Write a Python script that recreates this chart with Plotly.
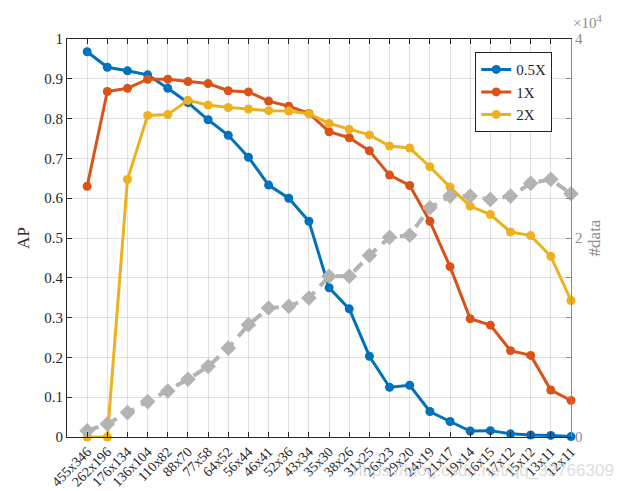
import plotly.graph_objects as go

# scale names on the x axis
sizes = ["455x346", "262x196", "176x134", "136x104", "110x82", "88x70", "77x58",
         "64x52", "56x44", "46x41", "52x36", "43x34", "35x30", "38x26", "31x25",
         "26x23", "29x20", "24x19", "21x17", "19x14", "16x15", "17x12", "15x12",
         "13x11", "12x11"]

# AP for each upsampling factor
ap_05x = [0.968, 0.929, 0.920, 0.910, 0.876, 0.840, 0.797, 0.758, 0.703, 0.633,
          0.600, 0.542, 0.375, 0.322, 0.203, 0.125, 0.130, 0.064, 0.039, 0.015,
          0.016, 0.008, 0.005, 0.004, 0.001]
ap_1x = [0.630, 0.868, 0.876, 0.899, 0.899, 0.893, 0.888, 0.870, 0.867, 0.844,
         0.831, 0.813, 0.767, 0.752, 0.719, 0.658, 0.632, 0.542, 0.428, 0.297,
         0.281, 0.217, 0.205, 0.118, 0.092]
ap_2x = [0.0, 0.0, 0.647, 0.808, 0.810, 0.846, 0.834, 0.828, 0.824, 0.820,
         0.819, 0.812, 0.788, 0.773, 0.759, 0.731, 0.726, 0.679, 0.628, 0.580,
         0.559, 0.515, 0.506, 0.454, 0.343]

# number of samples per scale (right axis)
n_data = [630, 1310, 2450, 3560, 4630, 5810, 7090, 8930, 11280, 12960,
          13130, 13970, 16150, 16150, 18240, 20080, 20280, 23040, 24210, 24210,
          23880, 24210, 25490, 25900, 24450]

right_ticks = list(range(0, 40001, 4000))
right_text = ["0" if v == 0 else "2" if v == 20000 else "4" if v == 40000 else "" for v in right_ticks]

serif = '"Liberation Serif", "Times New Roman", serif'
dark = "#262626"
grey_axis = "#8c8c8c"

x = list(range(len(sizes)))

fig = go.Figure()

for name, vals, col in [("0.5X", ap_05x, "#0072BD"), ("1X", ap_1x, "#D95319"), ("2X", ap_2x, "#EDB120")]:
    fig.add_trace(go.Scatter(
        x=x, y=vals, name=name, mode="lines+markers",
        line=dict(color=col, width=3),
        marker=dict(color=col, size=9, symbol="circle"),
        cliponaxis=False
    ))

fig.add_trace(go.Scatter(
    x=x, y=n_data, name="#data", mode="lines+markers", yaxis="y2",
    line=dict(color="#b3b3b3", width=4, dash="12px,8px"),
    marker=dict(color="#b3b3b3", size=12, symbol="diamond"),
    showlegend=False, cliponaxis=False
))

# page body has an 8px margin, so the figure is a bit smaller than the window
fig.update_layout(
    width=621, height=483,
    margin=dict(l=59, r=58, t=31, b=54),
    paper_bgcolor="white", plot_bgcolor="white",
    font=dict(family=serif, color=dark),
    showlegend=True,
    legend=dict(
        x=0.81, y=0.967, xanchor="left", yanchor="top",
        bgcolor="white", bordercolor=dark, borderwidth=1,
        font=dict(family=serif, size=15, color=dark),
        tracegroupgap=0, itemwidth=30
    ),
    xaxis=dict(
        range=[-1, 24], tickmode="array", tickvals=x, ticktext=sizes,
        tickangle=-45, tickfont=dict(family=serif, size=14, color=dark),
        ticks="inside", ticklen=5, tickcolor=dark, automargin=False,
        showline=True, linecolor=dark, linewidth=1, mirror="ticks",
        showgrid=True, gridcolor="rgba(0,0,0,0.12)", zeroline=False
    ),
    yaxis=dict(
        range=[0, 1], tickmode="array", tickvals=[i / 10 for i in range(11)],
        ticktext=["0", "0.1", "0.2", "0.3", "0.4", "0.5", "0.6", "0.7", "0.8", "0.9", "1"],
        tickfont=dict(family=serif, size=15, color=dark),
        ticks="inside", ticklen=5, tickcolor=dark, automargin=False,
        showline=True, linecolor=dark, linewidth=1,
        showgrid=True, gridcolor="rgba(0,0,0,0.12)", zeroline=False,
        title=dict(text="AP", font=dict(family=serif, size=17, color=dark), standoff=10)
    ),
    yaxis2=dict(
        overlaying="y", side="right", range=[0, 40000],
        tickmode="array", tickvals=right_ticks, ticktext=right_text,
        tickfont=dict(family=serif, size=15, color=grey_axis),
        ticks="inside", ticklen=5, tickcolor=grey_axis, automargin=False,
        showline=True, linecolor=grey_axis, linewidth=1,
        showgrid=False, zeroline=False,
        title=dict(text="#data", font=dict(family=serif, size=17, color=grey_axis), standoff=6)
    ),
    annotations=[
        dict(text="×10<sup>4</sup>", xref="paper", yref="paper", x=1.0, y=1.0,
             xanchor="left", yanchor="bottom", xshift=0, yshift=6, showarrow=False,
             font=dict(family=serif, size=15, color=grey_axis)),
        dict(text="https://blog.csdn.net/qq_32766309", xref="paper", yref="paper",
             x=1.09, y=-0.085, xanchor="right", yanchor="middle", showarrow=False,
             font=dict(family="Liberation Sans", size=17, color="rgba(190,190,190,0.55)"))
    ]
)

fig.write_html("out.html")
